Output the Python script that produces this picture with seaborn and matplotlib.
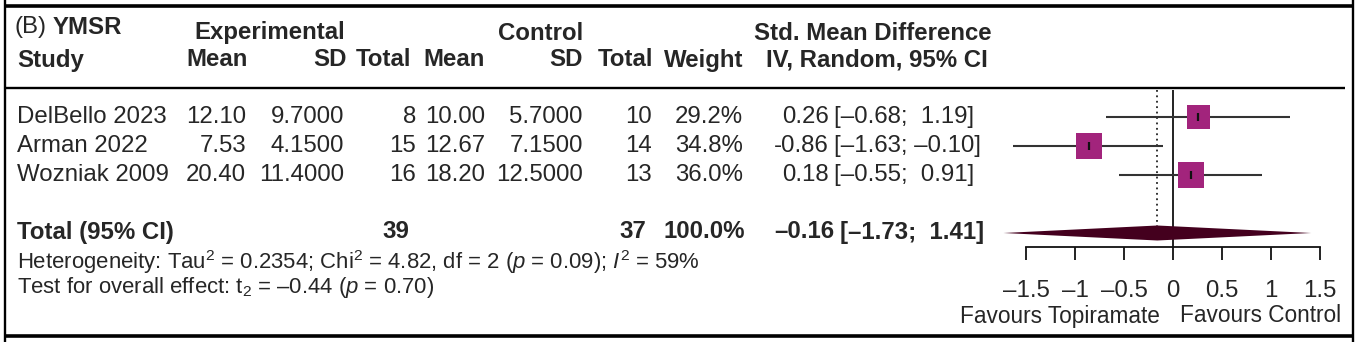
import numpy as np
import pandas as pd
import seaborn as sns
import matplotlib
matplotlib.use("Agg")
import matplotlib.pyplot as plt
from matplotlib import font_manager

# ---------------- data ----------------
studies = ["DelBello 2023", "Arman 2022", "Wozniak 2009"]
exp_mean = [12.10, 7.53, 20.40]
exp_sd = [9.70, 4.15, 11.40]
exp_n = [8, 15, 16]
ctl_mean = [10.00, 12.67, 18.20]
ctl_sd = [5.70, 7.15, 12.50]
ctl_n = [10, 14, 13]
weights = [29.2, 34.8, 36.0]
smd = [0.26, -0.86, 0.18]
ci_lo = [-0.68, -1.63, -0.55]
ci_hi = [1.19, -0.10, 0.91]

total_exp_n = 39
total_ctl_n = 37
total_weight = 100.0
total_smd = -0.16
total_lo = -1.73
total_hi = 1.41

x_ticks = [-1.5, -1, -0.5, 0, 0.5, 1, 1.5]
x_ticklabels = ["\u20131.5", "\u20131", "\u20130.5", "0", "0.5", "1", "1.5"]

heterogeneity = (r"Heterogeneity: Tau$^2$ = 0.2354; Chi$^2$ = 4.82, df = 2 ($p$ = 0.09); "
                 r"$I^2$ = 59%")
overall = "Test for overall effect: $\\mathrm{t}_2$ = \u20130.44 ($p$ = 0.70)"

# ---------------- style ----------------
sns.set_theme(style="white")
plt.rcParams["font.family"] = ["Liberation Sans", "DejaVu Sans"]
names = {f.name for f in font_manager.fontManager.ttflist}
narrow = "Liberation Sans Narrow" if "Liberation Sans Narrow" in names else None
plt.rcParams["mathtext.fontset"] = "custom"
if narrow:
    plt.rcParams["mathtext.rm"] = narrow
    plt.rcParams["mathtext.it"] = narrow + ":italic"
else:
    plt.rcParams["mathtext.rm"] = "Liberation Sans"
    plt.rcParams["mathtext.it"] = "Liberation Sans:italic"

W, H = 1362, 342
DPI = 100
FS = 17.3          # ~24 px
PX = 72.0 / DPI    # points per pixel

fig = plt.figure(figsize=(W / DPI, H / DPI), dpi=DPI)
fig.patch.set_facecolor("white")

# overlay axes in pixel coordinates for the table text and frame
tax = fig.add_axes([0, 0, 1, 1])
tax.set_xlim(0, W)
tax.set_ylim(H, 0)
tax.axis("off")

def t(x, y, s, ha="left", bold=False, **kw):
    tax.text(x, y, s, ha=ha, va="center", fontsize=kw.pop("fs", FS),
             fontweight="bold" if bold else "normal", **kw)

def fmt_neg(v, dash="\u2013", nd=2):
    s = f"{abs(v):.{nd}f}"
    return (dash + s) if v < 0 else s

# frame lines
tax.plot([6, 1352], [6, 6], color="black", lw=2.6, solid_capstyle="butt")
tax.plot([6, 1352], [336, 336], color="black", lw=2.6, solid_capstyle="butt")
tax.plot([6, 1345], [88, 88], color="black", lw=1.7, solid_capstyle="butt")
tax.plot([5, 5], [0, H], color="black", lw=1.7)
tax.plot([1353, 1353], [0, H], color="black", lw=1.7)

# headers
t(15, 27, "(B)")
t(53, 27, "YMSR", bold=True)
t(345, 33, "Experimental", ha="right", bold=True)
t(583, 33, "Control", ha="right", bold=True)
t(992, 33, "Std. Mean Difference", ha="right", bold=True)
y2 = 60
t(17, y2, "Study", bold=True)
t(248, y2, "Mean", ha="right", bold=True)
t(347, y2, "SD", ha="right", bold=True)
t(411, y2, "Total", ha="right", bold=True)
t(485, y2, "Mean", ha="right", bold=True)
t(583, y2, "SD", ha="right", bold=True)
t(653, y2, "Total", ha="right", bold=True)
t(743, y2, "Weight", ha="right", bold=True)
t(988, y2, "IV, Random, 95% CI", ha="right", bold=True)

# study rows
row_px = [117, 146, 175]
for i, yy in enumerate(row_px):
    t(17, yy, studies[i])
    t(246, yy, f"{exp_mean[i]:.2f}", ha="right")
    t(344, yy, f"{exp_sd[i]:.4f}", ha="right")
    t(416, yy, f"{exp_n[i]}", ha="right")
    t(485, yy, f"{ctl_mean[i]:.2f}", ha="right")
    t(583, yy, f"{ctl_sd[i]:.4f}", ha="right")
    t(652, yy, f"{ctl_n[i]}", ha="right")
    t(743, yy, f"{weights[i]:.1f}%", ha="right")
    t(829, yy, fmt_neg(smd[i], dash="-"), ha="right")
    hi_s = fmt_neg(ci_hi[i])
    t(834, yy, f"[{fmt_neg(ci_lo[i])}; {'' if ci_hi[i] < 0 else ' '}{hi_s}]")

# total row
yt = 232
t(17, yt, "Total (95% CI)", bold=True)
t(409, yt, f"{total_exp_n}", ha="right", bold=True)
t(646, yt, f"{total_ctl_n}", ha="right", bold=True)
t(745, yt, f"{total_weight:.1f}%", ha="right", bold=True)
t(834, yt, fmt_neg(total_smd), ha="right", bold=True)
t(840, yt, f"[{fmt_neg(total_lo)};  {fmt_neg(total_hi)}]", bold=True)

if narrow:
    t(17, 262, heterogeneity, family=narrow)
    t(17, 288, overall, family=narrow)
else:
    t(17, 262, heterogeneity, fs=FS * 0.92)
    t(17, 288, overall, fs=FS * 0.92)

t(1160, 316, "Favours Topiramate", ha="right", fs=FS * 0.94)
t(1341, 316, "Favours Control", ha="right", fs=FS * 0.94)

# ---------------- forest panel ----------------
x0_px, x1_px = 1026, 1320
top_px, bot_px = 90, 247
fax = fig.add_axes([x0_px / W, 1 - bot_px / H, (x1_px - x0_px) / W, (bot_px - top_px) / H])
fax.set_facecolor("none")
row_step = 29.0
ylo = (bot_px - 117) / row_step
yhi = (top_px - 117) / row_step
fax.set_xlim(-1.5, 1.5)
fax.set_ylim(ylo, yhi)

rows = np.arange(len(studies))
total_row = 4
df = pd.DataFrame({"smd": smd, "lo": ci_lo, "hi": ci_hi, "w": weights, "row": rows})

half_h = 7.5 / row_step
# reference lines
fax.axvline(0, color="#222222", lw=1.4, zorder=1)
fax.plot([total_smd, total_smd], [yhi, total_row - half_h], color="#222222",
         lw=1.3, linestyle=(0, (1, 2)), zorder=1, clip_on=False)

# CI lines
fax.hlines(df["row"], df["lo"], df["hi"], color="#333333", lw=1.5, zorder=2, clip_on=False)
# squares
sns.scatterplot(data=df, x="smd", y="row", marker="s", s=df["w"] * 9.8,
                color="#A2247C", edgecolor="none", linewidth=0, ax=fax,
                zorder=3, legend=False, clip_on=False)
# tick inside squares
fax.vlines(df["smd"], df["row"] - 0.14, df["row"] + 0.14, color="#111111", lw=1.6, zorder=4)

# diamond
fax.fill([total_lo, total_smd, total_hi, total_smd],
         [total_row, total_row - half_h, total_row, total_row + half_h],
         color="#44001E", zorder=3, clip_on=False, lw=0)

for s in ["top", "left", "right"]:
    fax.spines[s].set_visible(False)
fax.spines["bottom"].set_visible(True)
fax.spines["bottom"].set_color("#111111")
fax.spines["bottom"].set_linewidth(1.3)
fax.set_xticks(x_ticks)
fax.set_xticklabels(x_ticklabels, fontsize=FS)
fax.set_yticks([])
fax.tick_params(axis="x", direction="out", length=13 * PX, width=1.3, color="#111111",
                pad=20 * PX, bottom=True)
fax.set_xlabel("")
fax.set_ylabel("")

fig.savefig("out.png", dpi=DPI, facecolor="white")
